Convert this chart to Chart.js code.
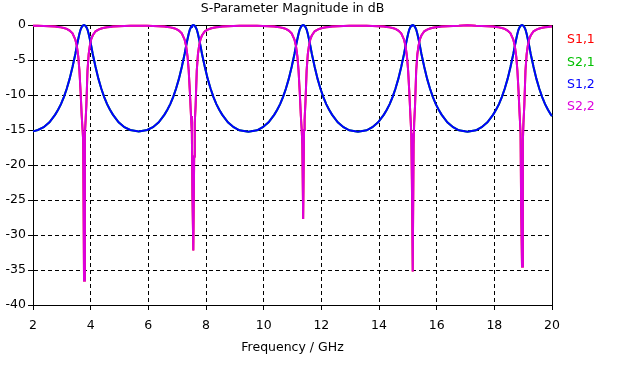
<!DOCTYPE html>
<html><head><meta charset="utf-8">
<script src="https://cdn.jsdelivr.net/npm/chart.js@4/dist/chart.umd.min.js"></script>
<style>html,body{margin:0;padding:0;background:#fff;overflow:hidden}</style>
</head><body>
<canvas id="c" width="621" height="365"></canvas>
<script>
const chartTitle = 'S-Parameter Magnitude in dB';
const xAxisTitle = 'Frequency / GHz';
const seriesNames = ['S1,1', 'S2,1', 'S1,2', 'S2,2'];
const seriesColors = ['#ff0000', '#00c000', '#0000ff', '#dd00dd'];
const xTickValues = [2, 4, 6, 8, 10, 12, 14, 16, 18, 20];
const yTickValues = [0, -5, -10, -15, -20, -25, -30, -35, -40];

// Frequency samples in GHz
const freq = [
  2.0, 2.17, 2.37, 2.57, 2.77, 2.87, 2.97, 3.07, 3.17, 3.27, 3.37,
  3.47, 3.52, 3.57, 3.61, 3.65, 3.69, 3.72, 3.74, 3.77, 3.80, 3.82, 3.85, 3.89, 3.93, 3.97, 4.02, 4.07,
  4.17, 4.27, 4.37, 4.47, 4.57, 4.67, 4.77, 4.97, 5.17, 5.37, 5.67, 5.96, 6.16, 6.36, 6.56, 6.66, 6.76, 6.86, 6.96, 7.06, 7.16,
  7.26, 7.31, 7.36, 7.40, 7.44, 7.48, 7.51, 7.53, 7.56, 7.59, 7.61, 7.64, 7.68, 7.72, 7.76, 7.81, 7.86,
  7.96, 8.06, 8.16, 8.26, 8.36, 8.46, 8.56, 8.76, 8.96, 9.16, 9.47, 9.77, 9.97, 10.17, 10.37, 10.47, 10.57, 10.67, 10.77, 10.87, 10.97,
  11.07, 11.12, 11.17, 11.21, 11.25, 11.29, 11.32, 11.34, 11.37, 11.40, 11.42, 11.45, 11.49, 11.53, 11.57, 11.62, 11.67,
  11.77, 11.87, 11.97, 12.07, 12.17, 12.27, 12.37, 12.57, 12.77, 12.97, 13.27, 13.57, 13.77, 13.97, 14.17, 14.27, 14.37, 14.47, 14.57, 14.67, 14.77,
  14.87, 14.92, 14.97, 15.01, 15.05, 15.09, 15.12, 15.14, 15.17, 15.20, 15.22, 15.25, 15.29, 15.33, 15.37, 15.42, 15.47,
  15.57, 15.67, 15.77, 15.87, 15.97, 16.07, 16.17, 16.37, 16.57, 16.77, 17.07, 17.36, 17.56, 17.76, 17.96, 18.06, 18.16, 18.26, 18.36, 18.46, 18.56,
  18.66, 18.71, 18.76, 18.80, 18.84, 18.88, 18.91, 18.93, 18.96, 18.99, 19.01, 19.04, 19.08, 19.12, 19.16, 19.21, 19.26,
  19.36, 19.46, 19.56, 19.66, 19.76, 19.86, 19.96, 20.0
];

// S1,1 (reflection), dB
const s11 = [
  -0.11, -0.12, -0.14, -0.17, -0.23, -0.28, -0.34, -0.42, -0.55, -0.8, -1.2,
  -2.1, -3.0, -4.5, -6.5, -9.5, -13.0, -15.0, -16.5, -36.5, -15.5, -14.0, -11.5, -6.5, -4.2, -3.0, -2.0, -1.5,
  -0.9, -0.65, -0.5, -0.4, -0.33, -0.28, -0.23, -0.17, -0.14, -0.12, -0.11, -0.12, -0.14, -0.17, -0.23, -0.28, -0.34, -0.42, -0.55, -0.8, -1.2,
  -2.1, -3.0, -4.5, -6.5, -9.5, -13.0, -15.5, -24.5, -32.2, -18.8, -14.0, -11.5, -6.5, -4.2, -3.0, -2.0, -1.5,
  -0.9, -0.65, -0.5, -0.4, -0.33, -0.28, -0.23, -0.17, -0.14, -0.12, -0.11, -0.12, -0.14, -0.17, -0.23, -0.28, -0.34, -0.42, -0.55, -0.8, -1.2,
  -2.1, -3.0, -4.5, -6.5, -9.5, -13.0, -15.0, -17.0, -27.7, -15.0, -13.5, -11.0, -6.5, -4.2, -3.0, -2.0, -1.5,
  -0.9, -0.65, -0.5, -0.4, -0.33, -0.28, -0.23, -0.17, -0.14, -0.12, -0.11, -0.12, -0.14, -0.17, -0.23, -0.28, -0.34, -0.42, -0.55, -0.8, -1.2,
  -2.1, -3.0, -4.5, -6.5, -9.5, -13.0, -15.5, -22.0, -35.2, -17.0, -14.0, -11.5, -6.5, -4.2, -3.0, -2.0, -1.5,
  -0.9, -0.65, -0.5, -0.4, -0.33, -0.28, -0.23, -0.17, -0.14, -0.12, -0.05, -0.12, -0.14, -0.17, -0.23, -0.28, -0.34, -0.42, -0.55, -0.8, -1.2,
  -2.1, -3.0, -4.5, -6.5, -9.5, -13.0, -15.5, -26.0, -34.5, -16.5, -14.0, -11.5, -6.5, -4.2, -3.0, -2.0, -1.5,
  -0.9, -0.65, -0.5, -0.4, -0.33, -0.28, -0.23, -0.22
];

// S2,1 (transmission), dB
const s21 = [
  -15.2, -15.0, -14.6, -13.9, -12.8, -12.1, -11.3, -10.3, -9.1, -7.7, -6.0,
  -4.1, -3.0, -2.0, -1.25, -0.65, -0.3, -0.12, -0.05, 0, -0.05, -0.12, -0.3, -0.65, -1.25, -2.0, -3.0, -4.1,
  -6.0, -7.7, -9.1, -10.3, -11.3, -12.1, -12.8, -13.9, -14.6, -15.0, -15.2, -15.0, -14.6, -13.9, -12.8, -12.1, -11.3, -10.3, -9.1, -7.7, -6.0,
  -4.1, -3.0, -2.0, -1.25, -0.65, -0.3, -0.12, -0.05, 0, -0.05, -0.12, -0.3, -0.65, -1.25, -2.0, -3.0, -4.1,
  -6.0, -7.7, -9.1, -10.3, -11.3, -12.1, -12.8, -13.9, -14.6, -15.05, -15.25, -15.05, -14.6, -13.9, -12.8, -12.1, -11.3, -10.3, -9.1, -7.7, -6.0,
  -4.1, -3.0, -2.0, -1.25, -0.65, -0.3, -0.12, -0.05, 0, -0.05, -0.12, -0.3, -0.65, -1.25, -2.0, -3.0, -4.1,
  -6.0, -7.7, -9.1, -10.3, -11.3, -12.1, -12.8, -13.9, -14.6, -15.05, -15.25, -15.05, -14.6, -13.9, -12.8, -12.1, -11.3, -10.3, -9.1, -7.7, -6.0,
  -4.1, -3.0, -2.0, -1.25, -0.65, -0.3, -0.12, -0.05, 0, -0.05, -0.12, -0.3, -0.65, -1.25, -2.0, -3.0, -4.1,
  -6.0, -7.7, -9.1, -10.3, -11.3, -12.1, -12.8, -13.9, -14.6, -15.05, -15.25, -15.05, -14.6, -13.9, -12.8, -12.1, -11.3, -10.3, -9.1, -7.7, -6.0,
  -4.1, -3.0, -2.0, -1.25, -0.65, -0.3, -0.12, -0.05, 0, -0.05, -0.12, -0.3, -0.65, -1.25, -2.0, -3.0, -4.1,
  -6.0, -7.7, -9.1, -10.3, -11.3, -12.1, -12.8, -13.0
];

// Symmetric, reciprocal structure: S1,2 = S2,1 and S2,2 = S1,1
const s12 = s21;
const s22 = s11;

const seriesValues = [s11, s21, s12, s22];
const drawOrder = [3, 2, 1, 0];
const lineWidths = [2, 2, 2, 2];

const FONT = { family: 'DejaVu Sans', size: 12.5 };
Chart.defaults.font.family = FONT.family;
Chart.defaults.font.size = FONT.size;
Chart.defaults.color = '#000';

const framePlugin = {
  id: 'frame',
  beforeDatasetsDraw(chart) {
    const { ctx, chartArea: a } = chart;
    ctx.save();
    ctx.strokeStyle = '#000';
    ctx.lineWidth = 1;
    ctx.beginPath();
    ctx.moveTo(Math.round(a.left) + 0.5, Math.round(a.top) + 0.5);
    ctx.lineTo(Math.round(a.right) + 0.5, Math.round(a.top) + 0.5);
    ctx.lineTo(Math.round(a.right) + 0.5, Math.round(a.bottom) + 0.5);
    ctx.stroke();
    ctx.restore();
  },
  afterDraw(chart) {
    const { ctx, chartArea: a } = chart;
    ctx.save();
    ctx.font = FONT.size + 'px "' + FONT.family + '"';
    ctx.fillStyle = '#000';
    ctx.textAlign = 'center';
    ctx.textBaseline = 'alphabetic';
    ctx.fillText(chartTitle, (a.left + a.right) / 2, 12);
    ctx.textAlign = 'left';
    ctx.textBaseline = 'middle';
    seriesNames.forEach((n, i) => {
      ctx.fillStyle = seriesColors[i];
      ctx.fillText(n, a.right + 15, 40 + i * 22.3);
    });
    ctx.restore();
  }
};

new Chart(document.getElementById('c'), {
  type: 'line',
  data: {
    datasets: seriesNames.map((name, i) => ({
      label: name,
      data: freq.map((f, k) => ({ x: f, y: seriesValues[i][k] })),
      borderColor: seriesColors[i],
      backgroundColor: seriesColors[i],
      borderWidth: lineWidths[i],
      pointRadius: 0,
      tension: 0,
      fill: false,
      order: drawOrder[i],
      clip: false
    }))
  },
  options: {
    responsive: false,
    animation: false,
    devicePixelRatio: 1,
    layout: { padding: { left: 0, right: 69, top: 25, bottom: 0 } },
    plugins: { legend: { display: false }, title: { display: false }, tooltip: { enabled: false } },
    scales: {
      x: {
        type: 'linear', min: 2, max: 20,
        afterBuildTicks(s) { s.ticks = xTickValues.map(v => ({ value: v })); },
        afterFit(s) { s.height = 60; },
        ticks: { padding: 8, color: '#000', maxRotation: 0, autoSkip: false },
        grid: { color: '#000', lineWidth: 1, tickLength: 5, tickColor: '#000', tickBorderDash: [] },
        border: { display: true, color: '#000', width: 1, dash: [4, 3] },
        title: { display: true, text: xAxisTitle, color: '#000', padding: { top: 0, bottom: 10 } }
      },
      y: {
        type: 'linear', min: -40, max: 0,
        afterBuildTicks(s) { s.ticks = yTickValues.slice().reverse().map(v => ({ value: v })); },
        afterFit(s) { s.width = 33; },
        ticks: { padding: 2, color: '#000', autoSkip: false },
        grid: { color: '#000', lineWidth: 1, tickLength: 5, tickColor: '#000', tickBorderDash: [] },
        border: { display: true, color: '#000', width: 1, dash: [4, 3] }
      }
    }
  },
  plugins: [framePlugin]
});
</script>
</body></html>
